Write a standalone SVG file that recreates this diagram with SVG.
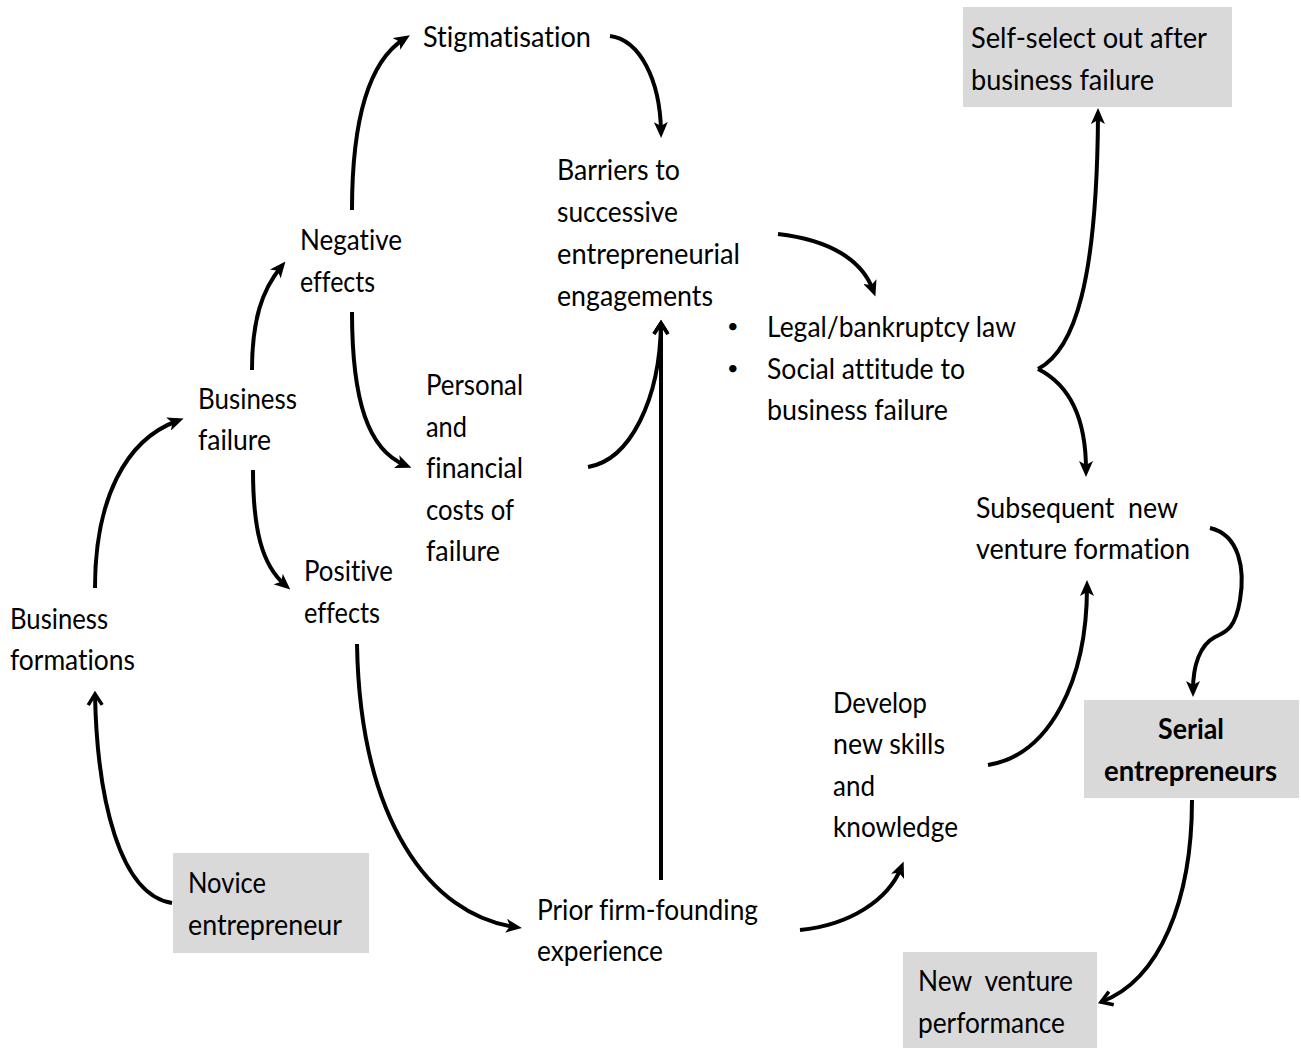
<svg xmlns="http://www.w3.org/2000/svg" width="1301" height="1048" viewBox="0 0 1301 1048">
<style>
text{font-family:Lato,"Open Sans","Liberation Sans",sans-serif;font-size:28px;fill:#000;white-space:pre;font-variant-ligatures:none}
.b{font-weight:bold}
.bul{font-size:20px}
.box{fill:#d9d9d9}
.c{fill:none;stroke:#000;stroke-width:4}
.a{marker-end:url(#ah)}
.v{marker-end:url(#ch)}
</style>
<defs>
<marker id="ah" viewBox="0 0 16 14" refX="9" refY="7" markerWidth="16" markerHeight="14" markerUnits="userSpaceOnUse" orient="auto">
<path d="M0,0 L16,7 L0,14 L4,7 z" fill="#000"/>
</marker>
<marker id="ch" viewBox="0 0 16 18" refX="13" refY="9" markerWidth="16" markerHeight="18" markerUnits="userSpaceOnUse" orient="auto" overflow="visible">
<path d="M2,2 L13,9 L2,16" fill="none" stroke="#000" stroke-width="3.5" stroke-linejoin="miter"/>
</marker>
</defs>
<rect width="1301" height="1048" fill="#fff"/>

<g id="novice">
<rect class="box" x="173" y="853" width="196" height="100"/>
<text x="188" y="893" textLength="78" lengthAdjust="spacingAndGlyphs">Novice</text>
<text x="188" y="935" textLength="154" lengthAdjust="spacingAndGlyphs">entrepreneur</text>
</g>

<g id="business-formations">
<text x="10" y="629" textLength="98" lengthAdjust="spacingAndGlyphs">Business</text>
<text x="10" y="670" textLength="125" lengthAdjust="spacingAndGlyphs">formations</text>
</g>

<g id="business-failure">
<text x="198" y="409" textLength="99" lengthAdjust="spacingAndGlyphs">Business</text>
<text x="198" y="450" textLength="73" lengthAdjust="spacingAndGlyphs">failure</text>
</g>

<g id="negative-effects">
<text x="300" y="250" textLength="102" lengthAdjust="spacingAndGlyphs">Negative</text>
<text x="300" y="292" textLength="75" lengthAdjust="spacingAndGlyphs">effects</text>
</g>

<g id="positive-effects">
<text x="304" y="581" textLength="89" lengthAdjust="spacingAndGlyphs">Positive</text>
<text x="304" y="623" textLength="76" lengthAdjust="spacingAndGlyphs">effects</text>
</g>

<g id="stigmatisation">
<text x="423" y="47" textLength="168" lengthAdjust="spacingAndGlyphs">Stigmatisation</text>
</g>

<g id="personal-costs">
<text x="426" y="395" textLength="97" lengthAdjust="spacingAndGlyphs">Personal</text>
<text x="426" y="437" textLength="41" lengthAdjust="spacingAndGlyphs">and</text>
<text x="426" y="478" textLength="97" lengthAdjust="spacingAndGlyphs">financial</text>
<text x="426" y="520" textLength="88" lengthAdjust="spacingAndGlyphs">costs of</text>
<text x="426" y="561" textLength="74" lengthAdjust="spacingAndGlyphs">failure</text>
</g>

<g id="barriers">
<text x="557" y="180" textLength="123" lengthAdjust="spacingAndGlyphs">Barriers to</text>
<text x="557" y="222" textLength="121" lengthAdjust="spacingAndGlyphs">successive</text>
<text x="557" y="264" textLength="183" lengthAdjust="spacingAndGlyphs">entrepreneurial</text>
<text x="557" y="306" textLength="156" lengthAdjust="spacingAndGlyphs">engagements</text>
</g>

<g id="legal-social">
<text class="bul" x="727" y="333">•</text>
<text x="767" y="337" textLength="249" lengthAdjust="spacingAndGlyphs">Legal/bankruptcy law</text>
<text class="bul" x="727" y="375">•</text>
<text x="767" y="379" textLength="198" lengthAdjust="spacingAndGlyphs">Social attitude to</text>
<text x="767" y="420" textLength="181" lengthAdjust="spacingAndGlyphs">business failure</text>
</g>

<g id="self-select">
<rect class="box" x="963" y="7" width="269" height="100"/>
<text x="971" y="48" textLength="236" lengthAdjust="spacingAndGlyphs">Self-select out after</text>
<text x="971" y="90" textLength="183" lengthAdjust="spacingAndGlyphs">business failure</text>
</g>

<g id="subsequent">
<text x="976" y="518" textLength="202" lengthAdjust="spacingAndGlyphs">Subsequent  new</text>
<text x="976" y="559" textLength="214" lengthAdjust="spacingAndGlyphs">venture formation</text>
</g>

<g id="develop">
<text x="833" y="713" textLength="94" lengthAdjust="spacingAndGlyphs">Develop</text>
<text x="833" y="754" textLength="112" lengthAdjust="spacingAndGlyphs">new skills</text>
<text x="833" y="796" textLength="42" lengthAdjust="spacingAndGlyphs">and</text>
<text x="833" y="837" textLength="125" lengthAdjust="spacingAndGlyphs">knowledge</text>
</g>

<g id="serial">
<rect class="box" x="1084" y="700" width="215" height="98"/>
<text class="b" x="1158" y="739" textLength="66" lengthAdjust="spacingAndGlyphs">Serial</text>
<text class="b" x="1104" y="781" textLength="173" lengthAdjust="spacingAndGlyphs">entrepreneurs</text>
</g>

<g id="prior">
<text x="537" y="920" textLength="221" lengthAdjust="spacingAndGlyphs">Prior firm-founding</text>
<text x="537" y="961" textLength="126" lengthAdjust="spacingAndGlyphs">experience</text>
</g>

<g id="performance">
<rect class="box" x="903" y="952" width="194" height="96"/>
<text x="918" y="991" textLength="155" lengthAdjust="spacingAndGlyphs">New  venture</text>
<text x="918" y="1033" textLength="147" lengthAdjust="spacingAndGlyphs">performance</text>
</g>

<g id="connectors">
<path class="c v" d="M172,903 C120,895 97,800 95,694"/>
<path class="c a" d="M95,588 C95,500 125,440 177,421"/>
<path class="c a" d="M252,370 C252,320 262,290 281,267"/>
<path class="c a" d="M352,210 C352,120 368,62 404,39"/>
<path class="c a" d="M610,36 C640,40 660,80 661,131"/>
<path class="c a" d="M352,312 C352,400 368,450 405,465"/>
<path class="c a" d="M253,470 C253,530 262,565 285,585"/>
<path class="c v" d="M588,467 C630,460 660,400 661,323"/>
<path class="c v" d="M661,880 L661,323"/>
<path class="c a" d="M357,644 C360,820 430,915 515,927"/>
<path class="c a" d="M778,234 C830,240 862,260 873,290"/>
<path class="c a" d="M1038,369 C1075,350 1097,280 1098,115"/>
<path class="c a" d="M1038,369 C1070,385 1086,420 1086,470"/>
<path class="c a" d="M1210,528 C1240,535 1245,570 1240,600 C1235,630 1225,632 1215,637 C1200,645 1193,665 1193,690"/>
<path class="c a" d="M800,930 C850,925 888,900 901,868"/>
<path class="c a" d="M988,765 C1050,755 1087,680 1087,587"/>
<path class="c v" d="M1192,800 C1192,900 1160,980 1101,1002"/>
</g>
</svg>
